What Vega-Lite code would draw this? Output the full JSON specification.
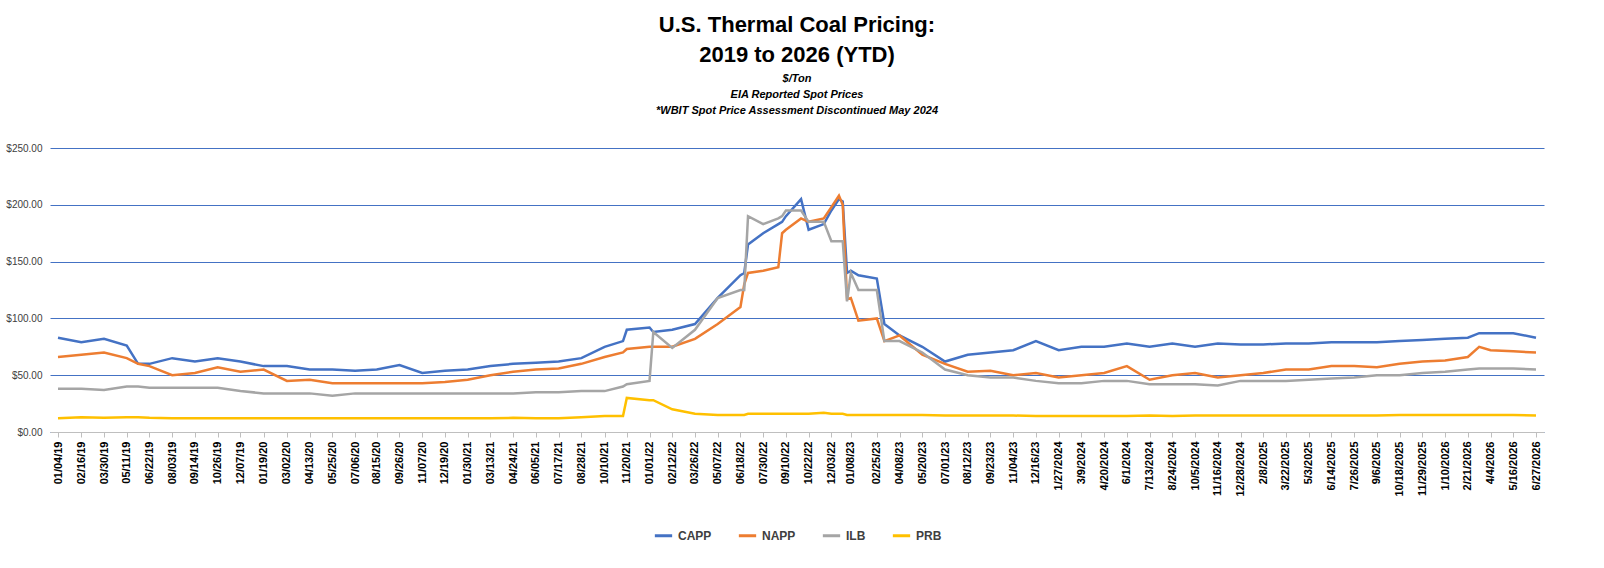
{
  "$schema": "https://vega.github.io/schema/vega-lite/v6.json",
  "width": 1494,
  "height": 284,
  "padding": {"left": 5, "top": 14, "right": 10, "bottom": 5},
  "background": "white",
  "title": {
    "text": ["U.S. Thermal Coal Pricing:", "2019 to 2026 (YTD)"],
    "subtitle": ["$/Ton", "EIA Reported Spot Prices", "*WBIT Spot Price Assessment Discontinued May 2024"],
    "font": "Liberation Sans",
    "fontSize": 22,
    "fontWeight": "bold",
    "lineHeight": 30,
    "subtitleFont": "Liberation Sans",
    "subtitleFontSize": 11,
    "subtitleFontWeight": "bold",
    "subtitleFontStyle": "italic",
    "subtitleLineHeight": 16,
    "subtitlePadding": 6,
    "subtitleColor": "black",
    "color": "black",
    "anchor": "middle",
    "offset": 26
  },
  "data": {
    "values": [
      {"d": "2019-01-04", "CAPP": 83, "NAPP": 66, "ILB": 38, "PRB": 12},
      {"d": "2019-02-16", "CAPP": 79, "NAPP": 68, "ILB": 38, "PRB": 13},
      {"d": "2019-03-30", "CAPP": 82, "NAPP": 70, "ILB": 37, "PRB": 12.5},
      {"d": "2019-05-11", "CAPP": 76, "NAPP": 65, "ILB": 40, "PRB": 13},
      {"d": "2019-06-01", "CAPP": 60, "NAPP": 60, "ILB": 40, "PRB": 13},
      {"d": "2019-06-22", "CAPP": 60, "NAPP": 58, "ILB": 39, "PRB": 12.5},
      {"d": "2019-08-03", "CAPP": 65, "NAPP": 50, "ILB": 39, "PRB": 12},
      {"d": "2019-09-14", "CAPP": 62, "NAPP": 52, "ILB": 39, "PRB": 12},
      {"d": "2019-10-26", "CAPP": 65, "NAPP": 57, "ILB": 39, "PRB": 12},
      {"d": "2019-12-07", "CAPP": 62, "NAPP": 53, "ILB": 36, "PRB": 12},
      {"d": "2020-01-19", "CAPP": 58, "NAPP": 55, "ILB": 34, "PRB": 12},
      {"d": "2020-03-02", "CAPP": 58, "NAPP": 45, "ILB": 34, "PRB": 12},
      {"d": "2020-04-13", "CAPP": 55, "NAPP": 46, "ILB": 34, "PRB": 12},
      {"d": "2020-05-25", "CAPP": 55, "NAPP": 43, "ILB": 32, "PRB": 12},
      {"d": "2020-07-06", "CAPP": 54, "NAPP": 43, "ILB": 34, "PRB": 12},
      {"d": "2020-08-15", "CAPP": 55, "NAPP": 43, "ILB": 34, "PRB": 12},
      {"d": "2020-09-26", "CAPP": 59, "NAPP": 43, "ILB": 34, "PRB": 12},
      {"d": "2020-11-07", "CAPP": 52, "NAPP": 43, "ILB": 34, "PRB": 12},
      {"d": "2020-12-19", "CAPP": 54, "NAPP": 44, "ILB": 34, "PRB": 12},
      {"d": "2021-01-30", "CAPP": 55, "NAPP": 46, "ILB": 34, "PRB": 12},
      {"d": "2021-03-13", "CAPP": 58, "NAPP": 50, "ILB": 34, "PRB": 12},
      {"d": "2021-04-24", "CAPP": 60, "NAPP": 53, "ILB": 34, "PRB": 12.5},
      {"d": "2021-06-05", "CAPP": 61, "NAPP": 55, "ILB": 35, "PRB": 12},
      {"d": "2021-07-17", "CAPP": 62, "NAPP": 56, "ILB": 35, "PRB": 12},
      {"d": "2021-08-28", "CAPP": 65, "NAPP": 60, "ILB": 36, "PRB": 13},
      {"d": "2021-10-10", "CAPP": 75, "NAPP": 66, "ILB": 36, "PRB": 14},
      {"d": "2021-11-13", "CAPP": 80, "NAPP": 70, "ILB": 40, "PRB": 14},
      {"d": "2021-11-20", "CAPP": 90, "NAPP": 73, "ILB": 42, "PRB": 30},
      {"d": "2022-01-01", "CAPP": 92, "NAPP": 75, "ILB": 45, "PRB": 28},
      {"d": "2022-01-08", "CAPP": 88, "NAPP": 75, "ILB": 88, "PRB": 28},
      {"d": "2022-02-12", "CAPP": 90, "NAPP": 75, "ILB": 74, "PRB": 20},
      {"d": "2022-03-26", "CAPP": 95, "NAPP": 82, "ILB": 90, "PRB": 16},
      {"d": "2022-05-07", "CAPP": 118, "NAPP": 95, "ILB": 118, "PRB": 15},
      {"d": "2022-06-18", "CAPP": 138, "NAPP": 110, "ILB": 125, "PRB": 15},
      {"d": "2022-06-25", "CAPP": 140, "NAPP": 130, "ILB": 125, "PRB": 15},
      {"d": "2022-07-02", "CAPP": 165, "NAPP": 140, "ILB": 190, "PRB": 16},
      {"d": "2022-07-30", "CAPP": 175, "NAPP": 142, "ILB": 183, "PRB": 16},
      {"d": "2022-08-27", "CAPP": 183, "NAPP": 145, "ILB": 188, "PRB": 16},
      {"d": "2022-09-03", "CAPP": 185, "NAPP": 175, "ILB": 190, "PRB": 16},
      {"d": "2022-09-10", "CAPP": 190, "NAPP": 178, "ILB": 195, "PRB": 16},
      {"d": "2022-10-08", "CAPP": 205, "NAPP": 188, "ILB": 195, "PRB": 16},
      {"d": "2022-10-22", "CAPP": 178, "NAPP": 185, "ILB": 185, "PRB": 16},
      {"d": "2022-11-19", "CAPP": 183, "NAPP": 188, "ILB": 185, "PRB": 17},
      {"d": "2022-12-03", "CAPP": 195, "NAPP": 198, "ILB": 168, "PRB": 16},
      {"d": "2022-12-17", "CAPP": 205, "NAPP": 208, "ILB": 168, "PRB": 16},
      {"d": "2022-12-24", "CAPP": 203, "NAPP": 200, "ILB": 168, "PRB": 16},
      {"d": "2023-01-01", "CAPP": 140, "NAPP": 117, "ILB": 115, "PRB": 15},
      {"d": "2023-01-08", "CAPP": 142, "NAPP": 118, "ILB": 140, "PRB": 15},
      {"d": "2023-01-22", "CAPP": 138, "NAPP": 98, "ILB": 125, "PRB": 15},
      {"d": "2023-02-25", "CAPP": 135, "NAPP": 100, "ILB": 125, "PRB": 15},
      {"d": "2023-03-11", "CAPP": 95, "NAPP": 80, "ILB": 80, "PRB": 15},
      {"d": "2023-04-08", "CAPP": 85, "NAPP": 85, "ILB": 80, "PRB": 15},
      {"d": "2023-05-20", "CAPP": 75, "NAPP": 68, "ILB": 70, "PRB": 15},
      {"d": "2023-07-01", "CAPP": 62, "NAPP": 60, "ILB": 55, "PRB": 14.5},
      {"d": "2023-08-12", "CAPP": 68, "NAPP": 53, "ILB": 50, "PRB": 14.5},
      {"d": "2023-09-23", "CAPP": 70, "NAPP": 54, "ILB": 48, "PRB": 14.5},
      {"d": "2023-11-04", "CAPP": 72, "NAPP": 50, "ILB": 48, "PRB": 14.5},
      {"d": "2023-12-16", "CAPP": 80, "NAPP": 52, "ILB": 45, "PRB": 14},
      {"d": "2024-01-27", "CAPP": 72, "NAPP": 48, "ILB": 43, "PRB": 14},
      {"d": "2024-03-09", "CAPP": 75, "NAPP": 50, "ILB": 43, "PRB": 14},
      {"d": "2024-04-20", "CAPP": 75, "NAPP": 52, "ILB": 45, "PRB": 14},
      {"d": "2024-06-01", "CAPP": 78, "NAPP": 58, "ILB": 45, "PRB": 14},
      {"d": "2024-07-13", "CAPP": 75, "NAPP": 46, "ILB": 42, "PRB": 14.5},
      {"d": "2024-08-24", "CAPP": 78, "NAPP": 50, "ILB": 42, "PRB": 14},
      {"d": "2024-10-05", "CAPP": 75, "NAPP": 52, "ILB": 42, "PRB": 14.5},
      {"d": "2024-11-16", "CAPP": 78, "NAPP": 48, "ILB": 41, "PRB": 14.5},
      {"d": "2024-12-28", "CAPP": 77, "NAPP": 50, "ILB": 45, "PRB": 14.5},
      {"d": "2025-02-08", "CAPP": 77, "NAPP": 52, "ILB": 45, "PRB": 14.5},
      {"d": "2025-03-22", "CAPP": 78, "NAPP": 55, "ILB": 45, "PRB": 14.5},
      {"d": "2025-05-03", "CAPP": 78, "NAPP": 55, "ILB": 46, "PRB": 14.5},
      {"d": "2025-06-14", "CAPP": 79, "NAPP": 58, "ILB": 47, "PRB": 14.5},
      {"d": "2025-07-26", "CAPP": 79, "NAPP": 58, "ILB": 48, "PRB": 14.5},
      {"d": "2025-09-06", "CAPP": 79, "NAPP": 57, "ILB": 50, "PRB": 14.5},
      {"d": "2025-10-18", "CAPP": 80, "NAPP": 60, "ILB": 50, "PRB": 15},
      {"d": "2025-11-29", "CAPP": 81, "NAPP": 62, "ILB": 52, "PRB": 15},
      {"d": "2026-01-10", "CAPP": 82, "NAPP": 63, "ILB": 53, "PRB": 15},
      {"d": "2026-02-21", "CAPP": 83, "NAPP": 66, "ILB": 55, "PRB": 15},
      {"d": "2026-03-14", "CAPP": 87, "NAPP": 75, "ILB": 56, "PRB": 15},
      {"d": "2026-04-04", "CAPP": 87, "NAPP": 72, "ILB": 56, "PRB": 15},
      {"d": "2026-05-16", "CAPP": 87, "NAPP": 71, "ILB": 56, "PRB": 15},
      {"d": "2026-06-27", "CAPP": 83, "NAPP": 70, "ILB": 55, "PRB": 14.5}
    ]
  },
  "transform": [
    {"fold": ["CAPP", "NAPP", "ILB", "PRB"], "as": ["series", "price"]}
  ],
  "mark": {"type": "line", "strokeWidth": 2.5},
  "encoding": {
    "x": {
      "field": "d",
      "type": "temporal",
      "scale": {"type": "utc", "padding": 8},
      "axis": {
        "title": null,
        "grid": false,
        "labelAngle": -90,
        "labelFont": "Liberation Sans",
        "labelFontSize": 11,
        "labelFontWeight": "bold",
        "labelColor": "black",
        "labelPadding": 4,
        "domainColor": "#bfbfbf",
        "tickColor": "#bfbfbf",
        "labelOverlap": false,
        "labelExpr": "utcyear(datum.value) < 2024 ? utcFormat(datum.value, '%m/%d/%y') : utcFormat(datum.value, '%-m/%-d/%Y')",
        "values": [
          {"year": 2019, "month": 1, "date": 4, "utc": true},
          {"year": 2019, "month": 2, "date": 16, "utc": true},
          {"year": 2019, "month": 3, "date": 30, "utc": true},
          {"year": 2019, "month": 5, "date": 11, "utc": true},
          {"year": 2019, "month": 6, "date": 22, "utc": true},
          {"year": 2019, "month": 8, "date": 3, "utc": true},
          {"year": 2019, "month": 9, "date": 14, "utc": true},
          {"year": 2019, "month": 10, "date": 26, "utc": true},
          {"year": 2019, "month": 12, "date": 7, "utc": true},
          {"year": 2020, "month": 1, "date": 19, "utc": true},
          {"year": 2020, "month": 3, "date": 2, "utc": true},
          {"year": 2020, "month": 4, "date": 13, "utc": true},
          {"year": 2020, "month": 5, "date": 25, "utc": true},
          {"year": 2020, "month": 7, "date": 6, "utc": true},
          {"year": 2020, "month": 8, "date": 15, "utc": true},
          {"year": 2020, "month": 9, "date": 26, "utc": true},
          {"year": 2020, "month": 11, "date": 7, "utc": true},
          {"year": 2020, "month": 12, "date": 19, "utc": true},
          {"year": 2021, "month": 1, "date": 30, "utc": true},
          {"year": 2021, "month": 3, "date": 13, "utc": true},
          {"year": 2021, "month": 4, "date": 24, "utc": true},
          {"year": 2021, "month": 6, "date": 5, "utc": true},
          {"year": 2021, "month": 7, "date": 17, "utc": true},
          {"year": 2021, "month": 8, "date": 28, "utc": true},
          {"year": 2021, "month": 10, "date": 10, "utc": true},
          {"year": 2021, "month": 11, "date": 20, "utc": true},
          {"year": 2022, "month": 1, "date": 1, "utc": true},
          {"year": 2022, "month": 2, "date": 12, "utc": true},
          {"year": 2022, "month": 3, "date": 26, "utc": true},
          {"year": 2022, "month": 5, "date": 7, "utc": true},
          {"year": 2022, "month": 6, "date": 18, "utc": true},
          {"year": 2022, "month": 7, "date": 30, "utc": true},
          {"year": 2022, "month": 9, "date": 10, "utc": true},
          {"year": 2022, "month": 10, "date": 22, "utc": true},
          {"year": 2022, "month": 12, "date": 3, "utc": true},
          {"year": 2023, "month": 1, "date": 8, "utc": true},
          {"year": 2023, "month": 2, "date": 25, "utc": true},
          {"year": 2023, "month": 4, "date": 8, "utc": true},
          {"year": 2023, "month": 5, "date": 20, "utc": true},
          {"year": 2023, "month": 7, "date": 1, "utc": true},
          {"year": 2023, "month": 8, "date": 12, "utc": true},
          {"year": 2023, "month": 9, "date": 23, "utc": true},
          {"year": 2023, "month": 11, "date": 4, "utc": true},
          {"year": 2023, "month": 12, "date": 16, "utc": true},
          {"year": 2024, "month": 1, "date": 27, "utc": true},
          {"year": 2024, "month": 3, "date": 9, "utc": true},
          {"year": 2024, "month": 4, "date": 20, "utc": true},
          {"year": 2024, "month": 6, "date": 1, "utc": true},
          {"year": 2024, "month": 7, "date": 13, "utc": true},
          {"year": 2024, "month": 8, "date": 24, "utc": true},
          {"year": 2024, "month": 10, "date": 5, "utc": true},
          {"year": 2024, "month": 11, "date": 16, "utc": true},
          {"year": 2024, "month": 12, "date": 28, "utc": true},
          {"year": 2025, "month": 2, "date": 8, "utc": true},
          {"year": 2025, "month": 3, "date": 22, "utc": true},
          {"year": 2025, "month": 5, "date": 3, "utc": true},
          {"year": 2025, "month": 6, "date": 14, "utc": true},
          {"year": 2025, "month": 7, "date": 26, "utc": true},
          {"year": 2025, "month": 9, "date": 6, "utc": true},
          {"year": 2025, "month": 10, "date": 18, "utc": true},
          {"year": 2025, "month": 11, "date": 29, "utc": true},
          {"year": 2026, "month": 1, "date": 10, "utc": true},
          {"year": 2026, "month": 2, "date": 21, "utc": true},
          {"year": 2026, "month": 4, "date": 4, "utc": true},
          {"year": 2026, "month": 5, "date": 16, "utc": true},
          {"year": 2026, "month": 6, "date": 27, "utc": true}
        ]
      }
    },
    "y": {
      "field": "price",
      "type": "quantitative",
      "scale": {"domain": [0, 250], "nice": false},
      "axis": {
        "title": null,
        "values": [0, 50, 100, 150, 200, 250],
        "format": "$,.2f",
        "domain": false,
        "ticks": false,
        "gridColor": "#4472C4",
        "gridWidth": 1,
        "labelFont": "Liberation Sans",
        "labelFontSize": 10,
        "labelColor": "#404040",
        "labelPadding": 8
      }
    },
    "color": {
      "field": "series",
      "type": "nominal",
      "scale": {
        "domain": ["CAPP", "NAPP", "ILB", "PRB"],
        "range": ["#4472C4", "#ED7D31", "#A5A5A5", "#FFC000"]
      },
      "legend": {
        "title": null,
        "orient": "bottom",
        "direction": "horizontal",
        "symbolType": "stroke",
        "symbolStrokeWidth": 3,
        "symbolSize": 300,
        "labelFont": "Liberation Sans",
        "labelFontSize": 12,
        "labelFontWeight": "bold",
        "labelColor": "#404040",
        "columnPadding": 20,
        "offset": 28
      }
    }
  },
  "config": {
    "view": {"stroke": null},
    "legend": {"layout": {"bottom": {"anchor": "middle"}}}
  }
}
